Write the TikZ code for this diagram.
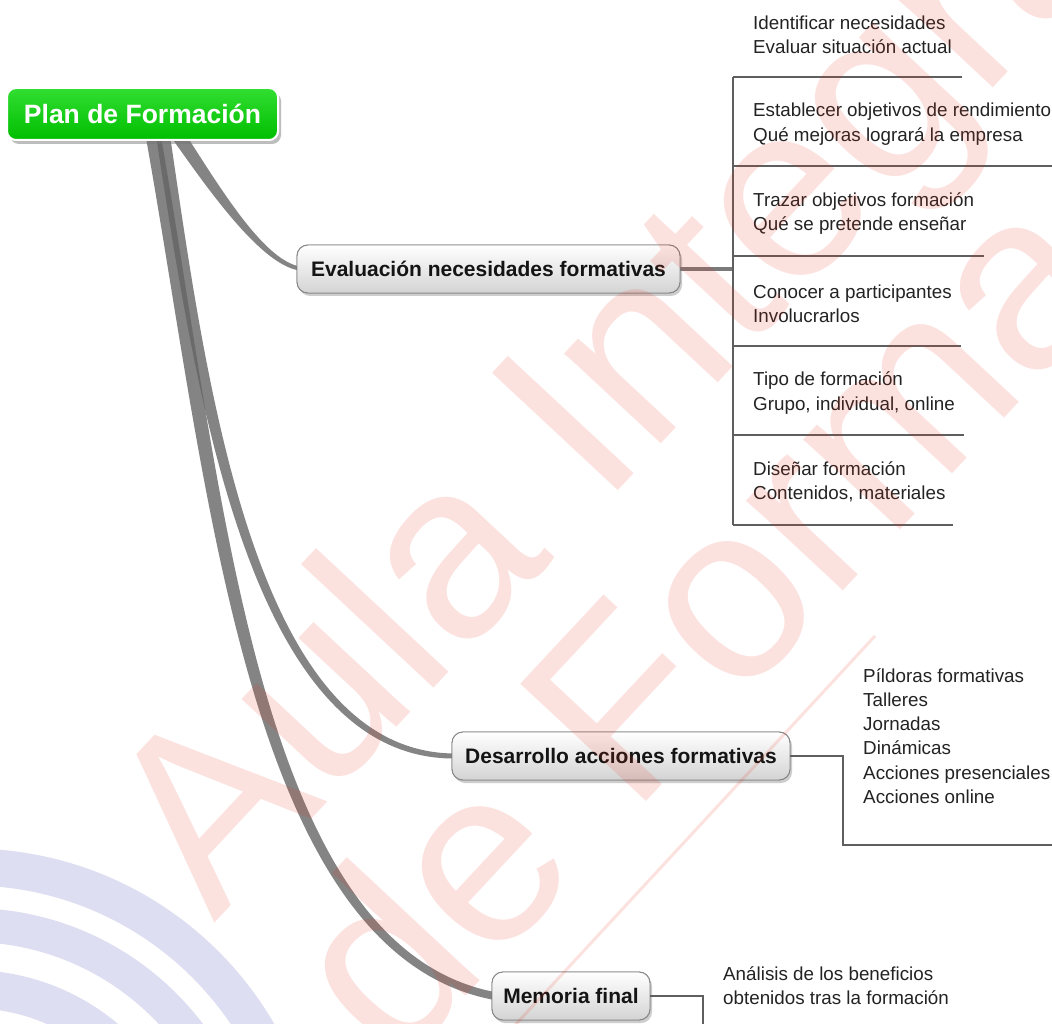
\documentclass[tikz,border=0pt]{standalone}
\usepackage{fontspec}
\setmainfont{Liberation Sans}
\usetikzlibrary{shadows,calc}
\definecolor{wmred}{RGB}{235,50,30}
\definecolor{logoblue}{RGB}{221,222,241}
\definecolor{branchgray}{RGB}{100,100,100}
\definecolor{greentop}{RGB}{50,222,50}
\definecolor{greenbot}{RGB}{0,190,0}
\definecolor{linegray}{RGB}{95,95,95}
\definecolor{leaftext}{RGB}{35,35,35}
\begin{document}
\begin{tikzpicture}[x=1pt,y=-1pt,
  branch/.style={fill=branchgray, fill opacity=0.79},
  rootbox/.style={rounded corners=9pt, top color=greentop, bottom color=greenbot,
    draw=white, line width=2pt, text=white, font=\bfseries\fontsize{26.5}{30}\selectfont,
    minimum width=271pt, minimum height=52pt, inner sep=0pt,
    drop shadow={opacity=0.3, shadow xshift=3pt, shadow yshift=-4pt}},
  topic/.style={rounded corners=11pt, top color=white, bottom color=black!17,
    draw=black!48, line width=0.9pt, text=black!92,
    font=\bfseries\fontsize{21}{25}\selectfont, minimum height=48pt, inner sep=0pt,
    drop shadow={opacity=0.22, shadow xshift=2pt, shadow yshift=-3pt}},
  leaf/.style={anchor=west, inner sep=0pt, align=left, text=leaftext,
    font=\fontsize{18.8}{24.3}\selectfont},
  bar/.style={draw=linegray, line width=1.6pt},
  evlink/.style={draw=black!52, line width=3.6pt},
  wm/.style={text=wmred, opacity=0.14, inner sep=0pt, font=\fontsize{250}{250}\selectfont},
  logo/.style={draw=logoblue}
]
\useasboundingbox (0,0) rectangle (1052,1024);
\fill[white] (0,0) rectangle (1052,1024);

% logo arcs (bottom left)
\begin{scope}
  \clip (0,0) rectangle (1052,1024);
  \draw[logo, line width=37pt] (-30,1200) circle [radius=333pt];
  \draw[logo, line width=34pt] (-30,1200) circle [radius=275pt];
  \draw[logo, line width=38pt] (-30,1200) circle [radius=211pt];
\end{scope}

% nodes
\node[rootbox] (root) at (142.5,114) {Plan de Formación};
\node[topic, minimum width=383pt] (eval) at (488.5,269) {Evaluación necesidades formativas};
\node[topic, minimum width=338pt] (dev) at (621,756) {Desarrollo acciones formativas};
\node[topic, minimum width=158pt] (mem) at (571,996) {Memoria final};

% tapered branches
\fill[branch] ($(root.south)+(37.3,-15.9)$) .. controls (219.6,187) and (262.5,259) .. ($(eval.west)+(3,-2.5)$)
  -- ($(eval.west)+(3,1.5)$) .. controls (261.5,265) and (210.4,193) .. ($(root.south)+(25.7,-8.1)$) -- cycle;
\fill[branch] ($(root.south)+(26.4,-13)$) .. controls (205.9,379.2) and (253.1,752.4) .. ($(dev.west)+(3,-2.5)$)
  -- ($(dev.west)+(3,2.5)$) .. controls (246.9,759.6) and (194.1,380.8) .. ($(root.south)+(12.6,-11)$) -- cycle;
\fill[branch] ($(root.south)+(16.9,-13.3)$) .. controls (221.95,479.1) and (254.7,945.8) .. ($(mem.west)+(3,-4)$)
  -- ($(mem.west)+(3,4)$) .. controls (245.3,954.2) and (208.05,480.9) .. ($(root.south)+(2.1,-10.7)$) -- cycle;

% redraw boxes on top of branches
\node[rootbox] at (root.center) {Plan de Formación};
\node[topic, minimum width=383pt] at (eval.center) {Evaluación necesidades formativas};
\node[topic, minimum width=338pt] at (dev.center) {Desarrollo acciones formativas};
\node[topic, minimum width=158pt] at (mem.center) {Memoria final};

% evaluation bracket
\coordinate (ebar) at (733,269);
\coordinate (etop) at (733,77);
\coordinate (ebot) at (733,525);
\draw[evlink] (eval.east) -- (ebar);
\draw[bar] (etop) -- (ebot);
\coordinate (u1) at (733,77);  \coordinate (v1) at (962,77);
\coordinate (u2) at (733,166); \coordinate (v2) at (1060,166);
\coordinate (u3) at (733,256); \coordinate (v3) at (984,256);
\coordinate (u4) at (733,346); \coordinate (v4) at (961,346);
\coordinate (u5) at (733,435); \coordinate (v5) at (964,435);
\coordinate (u6) at (733,525); \coordinate (v6) at (953,525);
\foreach \i in {1,...,6} {\draw[bar] (u\i) -- (v\i);}

\node[leaf] (e1) at (753,34.5) {Identificar necesidades\\Evaluar situación actual};
\node[leaf] (e2) at (753,124) {Establecer objetivos de rendimiento\\Qué mejoras logrará la empresa};
\node[leaf] (e3) at (753,213.5) {Trazar objetivos formación\\Qué se pretende enseñar};
\node[leaf] (e4) at (753,303.5) {Conocer a participantes\\Involucrarlos};
\node[leaf] (e5) at (753,393) {Tipo de formación\\Grupo, individual, online};
\node[leaf] (e6) at (753,482) {Diseñar formación\\Contenidos, materiales};

% development bracket
\coordinate (dbend) at (843,756);
\coordinate (dbot) at (843,845);
\coordinate (dend) at (1060,845);
\draw[bar] (dev.east) -- (dbend) -- (dbot) -- (dend);
\node[leaf] (d1) at (863,736) {Píldoras formativas\\Talleres\\Jornadas\\Dinámicas\\Acciones presenciales\\Acciones online};

% memoria bracket
\coordinate (mbend) at (703,996);
\coordinate (mend) at (703,1035);
\draw[bar] (mem.east) -- (mbend) -- (mend);
\node[leaf] (m1) at (723,985.5) {Análisis de los beneficios\\obtenidos tras la formación};

% watermark
\node[wm, rotate=47, anchor=base west] (wm1) at (214,924) {Aula Integral};
\node[wm, rotate=47, anchor=base west] (wm2) at (396,1071) {de Formación};
\draw[wmred, opacity=0.14, line width=3pt] (505,1036) -- (875,636);
\end{tikzpicture}
\end{document}
